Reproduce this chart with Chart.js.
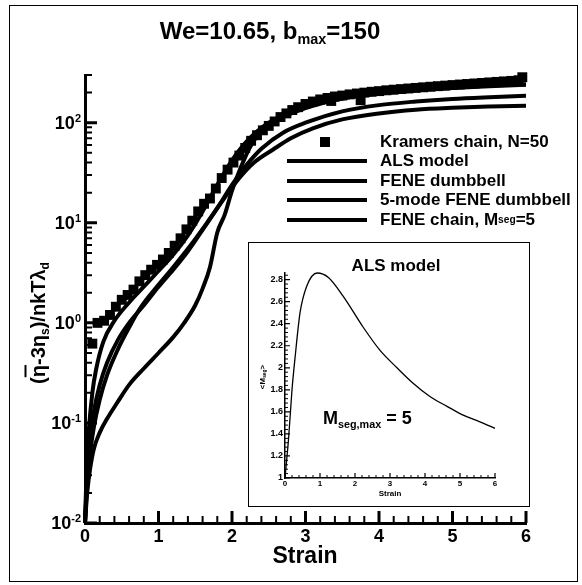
<!DOCTYPE html>
<html lang="en">
<head>
<meta charset="UTF-8">
<title>We=10.65, bmax=150</title>
<script src="https://cdn.jsdelivr.net/npm/chart.js@4.4.1/dist/chart.umd.min.js"></script>
<style>
  html, body { margin: 0; padding: 0; background: #fff; }
  body { font-family: "Liberation Sans", Arial, Helvetica, sans-serif; font-weight: bold; color: #000; }
  #fig { position: relative; width: 582px; height: 585px; overflow: hidden; }
  #main { position: absolute; left: 0; top: 0; }
  .frame { position: absolute; left: 9px; top: 5px; width: 569px; height: 577px; border: 1.5px solid #000; box-sizing: border-box; }
  sub { font-size: 0.6em; vertical-align: -0.35em; line-height: 0; }
  .title { position: absolute; top: 17px; left: 270px; transform: translateX(-50%); font-size: 24px; white-space: nowrap; }
  .ytitle { position: absolute; left: 38px; top: 323px; transform: translate(-50%, -50%) rotate(-90deg); font-size: 20px; white-space: nowrap; }
  .bar { text-decoration: overline; }
  .xtitle { position: absolute; left: 305px; top: 542px; transform: translateX(-50%); font-size: 23px; }
  .legend { position: absolute; left: 287px; top: 132px; font-size: 17px; }
  .row { height: 19.5px; display: flex; align-items: center; white-space: nowrap; }
  .sw { width: 80px; height: 100%; position: relative; margin-right: 13px; }
  .sw .ln { position: absolute; left: 0; right: 0; top: 50%; height: 4px; margin-top: -2px; background: #000; }
  .sw .sq { position: absolute; left: 33px; top: 50%; width: 10px; height: 10px; margin-top: -5px; background: #000; }
  #inset { position: absolute; left: 248px; top: 242px; width: 282px; height: 265px; background: #fff; }
  #inset canvas { position: absolute; left: 0; top: 0; }
  #inset .border { position: absolute; left: 0; top: 0; right: 0; bottom: 0; border: 1.5px solid #000; }
  .ins { position: absolute; white-space: nowrap; }
</style>
</head>
<body>
<div id="fig">
  <canvas id="main" width="582" height="585"></canvas>
  <div class="frame"></div>

  <div class="title">We=10.65, b<sub>max</sub>=150</div>
  <div class="ytitle">(<span class="bar">η</span>-3η<sub>s</sub>)/nkTλ<sub>d</sub></div>
  <div class="xtitle">Strain</div>

  <div class="legend">
    <div class="row"><div class="sw"><div class="sq"></div></div>Kramers chain, N=50</div>
    <div class="row"><div class="sw"><div class="ln"></div></div>ALS model</div>
    <div class="row"><div class="sw"><div class="ln"></div></div>FENE dumbbell</div>
    <div class="row"><div class="sw"><div class="ln"></div></div>5-mode FENE dumbbell</div>
    <div class="row"><div class="sw"><div class="ln"></div></div>FENE chain, M<sub>seg</sub>=5</div>
  </div>

  <div id="inset">
    <canvas id="als" width="282" height="265"></canvas>
    <div class="border"></div>
    <div class="ins" style="left:148px; top:24px; transform:translate(-50%,-50%); font-size:17px;">ALS model</div>
    <div class="ins" style="left:75px; top:166px; font-size:18px;">M<sub>seg,max</sub> = 5</div>
    <div class="ins" style="left:14px; top:135px; transform:translate(-50%,-50%) rotate(-90deg); font-size:8px;">&lt;M<sub>seg</sub>&gt;</div>
    <div class="ins" style="left:142px; top:251px; transform:translate(-50%,-50%); font-size:8px;">Strain</div>
  </div>
</div>

<script>
// ---- data ----
var kramersStrain = [0.10, 0.17, 0.26, 0.34, 0.42, 0.50, 0.58, 0.66, 0.74, 0.82, 0.90, 0.98,
  1.06, 1.14, 1.22, 1.30, 1.38, 1.46, 1.54, 1.62, 1.70, 1.78, 1.86, 1.94, 2.02, 2.10, 2.18,
  2.26, 2.34, 2.42, 2.50, 2.58, 2.66, 2.74, 2.82, 2.90, 3.0, 3.1, 3.2, 3.3, 3.35, 3.4, 3.5,
  3.6, 3.7, 3.75, 3.8, 3.9, 4.0, 4.1, 4.2, 4.3, 4.4, 4.5, 4.6, 4.7, 4.8, 4.9, 5.0, 5.1, 5.2,
  5.3, 5.4, 5.5, 5.6, 5.7, 5.8, 5.9, 5.95];
var kramersVisc = [0.62, 1.0, 1.05, 1.2, 1.45, 1.7, 1.9, 2.15, 2.6, 3.0, 3.4, 3.8,
  4.3, 5.0, 5.9, 7.0, 8.6, 10.5, 13, 15.5, 17.5, 22, 28, 34, 40, 47, 56,
  66, 75, 84, 93, 103, 114, 124, 134, 143, 154, 163, 171, 177, 165, 183, 187,
  192, 196, 168, 200, 204, 207, 211, 214, 217, 220, 223, 226, 229, 232, 235, 238, 241, 244,
  247, 250, 253, 256, 259, 262, 266, 285];

var alsStrain = [0, 0.02, 0.05, 0.1, 0.15, 0.25, 0.4, 0.6, 0.8, 1.0, 1.2, 1.4, 1.6, 1.8, 2.0, 2.2, 2.5, 3.0, 3.5, 4.0, 4.5, 5.0, 5.5, 6.0];
var alsVisc = [0.01, 0.03, 0.08, 0.2, 0.34, 0.65, 1.05, 1.6, 2.3, 3.3, 4.8, 7.5, 13, 24, 42, 65, 100, 145, 175, 195, 210, 222, 232, 240];

var feneStrain = [0, 0.03, 0.07, 0.12, 0.2, 0.3, 0.44, 0.6, 0.8, 1.0, 1.2, 1.35, 1.5, 1.6, 1.7, 1.8, 1.9, 2.0, 2.1, 2.25, 2.4, 2.6, 3.0, 3.5, 4.0, 4.5, 5.0, 5.5, 6.0];
var feneVisc = [0.01, 0.02, 0.035, 0.055, 0.08, 0.11, 0.16, 0.24, 0.35, 0.5, 0.72, 1.0, 1.5, 2.2, 3.6, 8, 12, 21, 33, 58, 82, 105, 140, 175, 198, 214, 226, 235, 242];

var fene5Strain = [0, 0.03, 0.07, 0.12, 0.2, 0.3, 0.45, 0.6, 0.8, 1.0, 1.2, 1.4, 1.6, 1.8, 2.0, 2.2, 2.4, 2.7, 3.0, 3.5, 4.0, 4.5, 5.0, 5.5, 6.0];
var fene5Visc = [0.01, 0.03, 0.07, 0.13, 0.24, 0.4, 0.68, 1.0, 1.5, 2.3, 3.4, 5.2, 8.5, 14, 24, 38, 55, 80, 100, 130, 150, 163, 173, 180, 186];

var chainStrain = [0, 0.03, 0.07, 0.12, 0.2, 0.3, 0.45, 0.6, 0.75, 1.0, 1.2, 1.4, 1.66, 1.88, 2.1, 2.3, 2.56, 2.8, 3.1, 3.5, 4.0, 4.5, 5.0, 5.5, 6.0];
var chainVisc = [0.01, 0.025, 0.05, 0.09, 0.17, 0.3, 0.55, 0.9, 1.4, 2.4, 3.6, 5.5, 10, 17, 28, 40, 54, 70, 88, 108, 124, 135, 141, 145, 148];

// inset: mean number of segments in the ALS model
var segStrain = [0, 0.1, 0.2, 0.29, 0.43, 0.62, 0.92, 1.24, 1.66, 2.23, 2.71, 3.2, 3.66, 4.14, 4.63, 5.09, 5.57, 6.0];
var segMean = [1.0, 1.35, 1.8, 2.1, 2.5, 2.74, 2.86, 2.82, 2.65, 2.37, 2.16, 2.0, 1.86, 1.74, 1.65, 1.57, 1.51, 1.45];

// axis ticks
var strainTicks = [0, 1, 2, 3, 4, 5, 6];
var viscTicks = [0.01, 0.1, 1, 10, 100];
var viscExp = ['-2', '-1', '0', '1', '2'];
var segTicks = [1, 1.2, 1.4, 1.6, 1.8, 2, 2.2, 2.4, 2.6, 2.8];

var FONT = '"Liberation Sans", Arial, Helvetica, sans-serif';

function pts(xs, ys) {
  return xs.map(function (x, i) { return { x: x, y: ys[i] }; });
}

function curve(label, xs, ys, w) {
  return {
    label: label,
    data: pts(xs, ys),
    showLine: true,
    borderColor: '#000',
    borderWidth: w,
    pointRadius: 0,
    cubicInterpolationMode: 'monotone',
    clip: false
  };
}

function steps(from, to, step, skip) {
  var out = [];
  for (var v = from; v <= to + 1e-9; v += step) {
    var r = Math.round(v * 1000) / 1000;
    if (skip.indexOf(r) < 0) out.push(r);
  }
  return out;
}

// minor ticks for the log axis: 2..9 in every decade
var viscMinor = [];
viscTicks.forEach(function (d) {
  for (var k = 2; k <= 9; k++) { if (d * k <= 300) viscMinor.push(d * k); }
});

// inward tick marks + y labels with exponents
var innerTicks = {
  id: 'innerTicks',
  afterDraw: function (chart, args, o) {
    var ctx = chart.ctx, xs = chart.scales.x, ys = chart.scales.y, a = chart.chartArea;
    ctx.save();
    ctx.strokeStyle = '#000';
    function xt(vals, len, w) {
      ctx.lineWidth = w;
      ctx.beginPath();
      vals.forEach(function (v) {
        var p = xs.getPixelForValue(v);
        ctx.moveTo(p, a.bottom);
        ctx.lineTo(p, a.bottom - len);
      });
      ctx.stroke();
    }
    function yt(vals, len, w) {
      ctx.lineWidth = w;
      ctx.beginPath();
      vals.forEach(function (v) {
        var p = ys.getPixelForValue(v);
        ctx.moveTo(a.left, p);
        ctx.lineTo(a.left + len, p);
      });
      ctx.stroke();
    }
    xt(o.xMajor, o.majorLen, o.majorWidth);
    xt(o.xMinor, o.minorLen, o.minorWidth);
    yt(o.yMajor, o.majorLen, o.majorWidth);
    yt(o.yMinor, o.minorLen, o.minorWidth);

    if (o.exponents) {
      ctx.fillStyle = '#000';
      o.yMajor.forEach(function (v, i) {
        var p = ys.getPixelForValue(v);
        var e = o.exponents[i];
        ctx.font = 'bold 11px ' + FONT;
        var ew = ctx.measureText(e).width;
        var right = a.left - 4 - ew;
        ctx.textAlign = 'left';
        ctx.textBaseline = 'alphabetic';
        ctx.fillText(e, right, p - 1);
        ctx.font = 'bold 18px ' + FONT;
        ctx.textAlign = 'right';
        ctx.textBaseline = 'middle';
        ctx.fillText('10', right, p + 1);
      });
    }
    ctx.restore();
  }
};

new Chart(document.getElementById('main'), {
  type: 'scatter',
  data: {
    datasets: [
      {
        label: 'Kramers chain, N=50',
        data: pts(kramersStrain, kramersVisc),
        pointStyle: 'rect',
        pointRadius: 7,
        backgroundColor: '#000',
        borderWidth: 0,
        showLine: false,
        clip: false
      },
      curve('ALS model', alsStrain, alsVisc, 4),
      curve('FENE dumbbell', feneStrain, feneVisc, 4),
      curve('5-mode FENE dumbbell', fene5Strain, fene5Visc, 4),
      curve('FENE chain, Mseg=5', chainStrain, chainVisc, 4)
    ]
  },
  options: {
    responsive: false,
    animation: false,
    layout: { padding: { left: 15, right: 56, top: 75, bottom: 22 } },
    plugins: {
      legend: { display: false },
      tooltip: { enabled: false },
      innerTicks: {
        xMajor: strainTicks,
        xMinor: steps(0, 6, 0.2, strainTicks),
        yMajor: viscTicks,
        yMinor: viscMinor,
        exponents: viscExp,
        majorLen: 12, minorLen: 7, majorWidth: 3, minorWidth: 2
      }
    },
    scales: {
      x: {
        type: 'linear', min: 0, max: 6,
        afterFit: function (s) { s.height = 40; },
        afterBuildTicks: function (s) { s.ticks = strainTicks.map(function (v) { return { value: v }; }); },
        ticks: { color: '#000', font: { family: FONT, size: 18, weight: 'bold' }, padding: 3, maxRotation: 0 },
        grid: { display: false, drawTicks: false },
        border: { color: '#000', width: 3 }
      },
      y: {
        type: 'logarithmic', min: 0.01, max: 300,
        afterFit: function (s) { s.width = 70; },
        ticks: { display: false },
        grid: { display: false, drawTicks: false },
        border: { color: '#000', width: 3 }
      }
    }
  },
  plugins: [innerTicks]
});

new Chart(document.getElementById('als'), {
  type: 'scatter',
  data: {
    datasets: [curve('ALS model', segStrain, segMean, 1.3)]
  },
  options: {
    responsive: false,
    animation: false,
    layout: { padding: { left: 12, right: 35, top: 31, bottom: 17 } },
    plugins: {
      legend: { display: false },
      tooltip: { enabled: false },
      innerTicks: {
        xMajor: strainTicks,
        xMinor: steps(0, 6, 0.2, strainTicks),
        yMajor: segTicks,
        yMinor: steps(1, 2.86, 0.04, segTicks),
        majorLen: 5, minorLen: 3, majorWidth: 1.2, minorWidth: 1
      }
    },
    scales: {
      x: {
        type: 'linear', min: 0, max: 6,
        afterFit: function (s) { s.height = 12; },
        afterBuildTicks: function (s) { s.ticks = strainTicks.map(function (v) { return { value: v }; }); },
        ticks: { color: '#000', font: { family: FONT, size: 8, weight: 'bold' }, padding: 1, maxRotation: 0 },
        grid: { display: false, drawTicks: false },
        border: { color: '#000', width: 1.5 }
      },
      y: {
        type: 'linear', min: 1, max: 2.86,
        afterFit: function (s) { s.width = 25; },
        afterBuildTicks: function (s) { s.ticks = segTicks.map(function (v) { return { value: v }; }); },
        ticks: {
          color: '#000', font: { family: FONT, size: 9, weight: 'bold' }, padding: 2,
          callback: function (v) { return String(Math.round(v * 10) / 10); }
        },
        grid: { display: false, drawTicks: false },
        border: { color: '#000', width: 1.5 }
      }
    }
  },
  plugins: [innerTicks]
});
</script>
</body>
</html>
